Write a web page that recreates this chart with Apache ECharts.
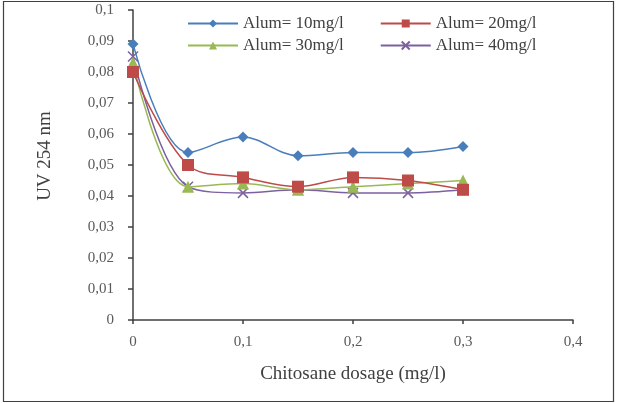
<!DOCTYPE html>
<html>
<head>
<meta charset="utf-8">
<script src="https://cdn.jsdelivr.net/npm/echarts@6/dist/echarts.min.js"></script>
<style>html,body{margin:0;padding:0;background:#fff;}#c{width:617px;height:403px;}</style>
</head>
<body>
<div id="c"></div>
<script>
const dosage = [0, 0.05, 0.1, 0.15, 0.2, 0.25, 0.3];
const seriesNames = ['Alum= 10mg/l', 'Alum= 20mg/l', 'Alum= 30mg/l', 'Alum= 40mg/l'];
const alum10 = [0.089, 0.054, 0.059, 0.053, 0.054, 0.054, 0.056];
const alum20 = [0.080, 0.050, 0.046, 0.043, 0.046, 0.045, 0.042];
const alum30 = [0.083, 0.043, 0.044, 0.042, 0.043, 0.044, 0.045];
const alum40 = [0.085, 0.043, 0.041, 0.042, 0.041, 0.041, 0.042];
const xTicks = ['0', '0,1', '0,2', '0,3', '0,4'];
const yTicks = ['0', '0,01', '0,02', '0,03', '0,04', '0,05', '0,06', '0,07', '0,08', '0,09', '0,1'];

const colors = ['#4A7EBB', '#BE4B48', '#98B954', '#7D60A0'];
const symbols = ['diamond', 'rect', 'triangle', 'path://M0,0 L10,10 M10,0 L0,10'];
const symbolSizes = [11, 12, 12, 10];
const allVals = [alum10, alum20, alum30, alum40];

const chart = echarts.init(document.getElementById('c'));
const font = '"Liberation Serif", "Times New Roman", serif';

const series = seriesNames.map((n, i) => ({
  name: n,
  type: 'line',
  smooth: 0.35,
  data: dosage.map((x, j) => [x, allVals[i][j]]),
  symbol: symbols[i],
  symbolSize: symbolSizes[i],
  itemStyle: i === 3 ? { color: colors[i], borderColor: colors[i], borderWidth: 1.5 } : { color: colors[i] },
  lineStyle: { color: colors[i], width: 1.5 },
  z: 10 - i
}));

const legendText = { fontFamily: font, fontSize: 17, color: '#404040' };

chart.setOption({
  animation: false,
  backgroundColor: '#fff',
  textStyle: { fontFamily: font },
  grid: { left: 133, right: 44, top: 10, bottom: 83, containLabel: false },
  legend: [
    { data: [seriesNames[0], seriesNames[1]], left: 187, top: 15, padding: 0, itemWidth: 50, itemHeight: 10, itemGap: 36,
      textStyle: legendText },
    { data: [seriesNames[2], seriesNames[3]], left: 187, top: 37, padding: 0, itemWidth: 50, itemHeight: 10, itemGap: 36,
      textStyle: legendText }
  ],
  xAxis: {
    type: 'value', min: 0, max: 0.4, interval: 0.1,
    name: 'Chitosane dosage (mg/l)', nameLocation: 'middle', nameGap: 45,
    nameTextStyle: { fontFamily: font, fontSize: 19, color: '#404040' },
    axisLine: { lineStyle: { color: '#404040', width: 1.5 } },
    axisTick: { show: true, length: 4, lineStyle: { color: '#404040', width: 1.5 } },
    axisLabel: { fontFamily: font, fontSize: 15, color: '#595959', margin: 15,
      formatter: v => xTicks[Math.round(v / 0.1)] },
    splitLine: { show: false }
  },
  yAxis: {
    type: 'value', min: 0, max: 0.1, interval: 0.01,
    name: 'UV 254 nm', nameLocation: 'middle', nameGap: 78, nameRotate: 90,
    nameTextStyle: { fontFamily: font, fontSize: 19, color: '#404040', padding: [0, 0, 0, 18] },
    axisLine: { show: true, lineStyle: { color: '#404040', width: 1.5 } },
    axisTick: { show: true, length: 5, lineStyle: { color: '#404040', width: 1.5 } },
    axisLabel: { fontFamily: font, fontSize: 15, color: '#595959', margin: 19,
      formatter: v => yTicks[Math.round(v / 0.01)] },
    splitLine: { show: false }
  },
  graphic: [{
    type: 'rect', shape: { x: 3.5, y: 1.5, width: 610, height: 400 },
    style: { fill: 'none', stroke: '#404040', lineWidth: 1.2 }, silent: true, z: -1
  }],
  series: series
});
</script>
</body>
</html>
